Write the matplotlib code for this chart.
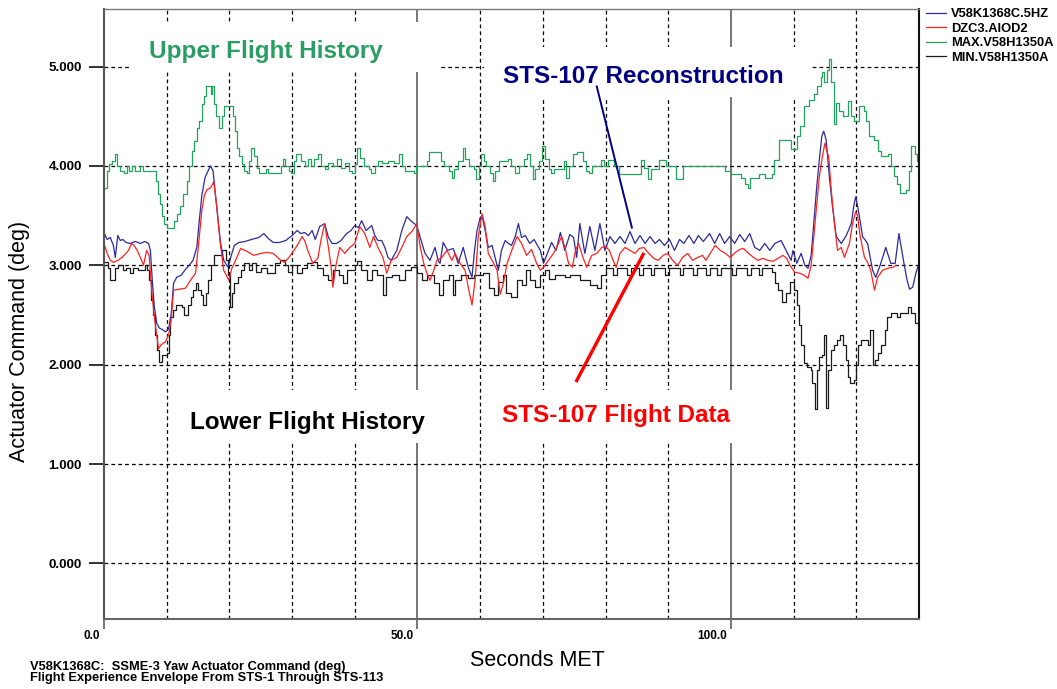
import matplotlib
matplotlib.use("Agg")
import matplotlib.pyplot as plt
from matplotlib.patches import Rectangle
from matplotlib.transforms import ScaledTranslation

plt.rcParams['font.family'] = ['Liberation Sans', 'DejaVu Sans']

# --- data (seconds MET, deg) ---
# STS-107 reconstruction (V58K1368C.5HZ)
recon_t = [0.0, 0.5, 1.0, 1.5, 1.8, 2.2, 2.6, 3.0, 3.5, 4.2, 5.0, 5.8, 6.5, 7.1, 7.4, 7.7, 8.0, 8.4, 8.8, 9.4,
           9.8, 10.3, 10.7, 11.1, 11.6, 12.3, 13.0, 13.6, 14.2, 14.8, 15.2, 15.6, 16.1, 16.6, 17.0, 17.4, 17.8, 18.2,
           18.6, 19.1, 19.8, 20.3, 20.8, 21.5, 22.5, 23.5, 24.7, 25.5, 26.2, 27.0, 28.0, 29.0, 30.0, 30.8, 31.4,
           32.0, 32.6, 33.2, 33.7, 34.4, 35.2, 35.8, 36.4, 37.1, 37.8, 38.7, 39.4, 40.0, 40.6, 41.1, 41.8, 42.7,
           43.2, 43.7, 44.3, 44.8, 45.3, 45.8, 46.7, 47.5, 48.3, 48.9, 49.9, 50.4, 51.2, 52.0, 52.8, 53.3, 53.6,
           54.1, 54.8, 55.7, 56.5, 57.3, 58.1, 58.7, 59.1, 59.5, 60.0, 60.3, 60.8, 61.3, 61.9, 62.5, 62.9, 63.4,
           64.0, 64.5, 65.0, 65.6, 66.1, 66.6, 67.2, 67.9, 68.6, 69.6, 70.1, 70.6, 71.4, 72.1, 72.8, 73.5, 74.3,
           74.9, 75.4, 75.9, 76.7, 77.5, 78.3, 79.1, 79.9, 80.7, 81.5, 82.3, 83.1, 83.9, 84.7, 85.5, 86.3, 87.1,
           87.9, 88.6, 89.4, 90.2, 91.0, 91.8, 92.5, 93.3, 94.1, 94.8, 95.6, 96.6, 97.4, 98.2, 99.0, 99.8, 100.6,
           101.4, 102.2, 103.0, 103.8, 104.6, 105.4, 106.2, 107.0, 108.0, 108.8, 109.6, 109.9, 110.5, 111.2,
           111.8, 112.3, 112.8, 113.3, 113.7, 114.1, 114.5, 114.8, 115.2, 115.7, 116.2, 116.8, 117.6, 118.4,
           119.2, 119.6, 119.9, 120.2, 120.5, 121.0, 121.8, 122.6, 123.1, 123.8, 124.7, 125.5, 126.2, 126.8,
           127.6, 128.1, 128.5, 129.0, 129.5, 130.0]
recon_v = [3.33, 3.26, 3.28, 3.20, 3.08, 3.30, 3.25, 3.26, 3.23, 3.22, 3.24, 3.22, 3.24, 3.22, 3.15, 2.85, 2.60,
           2.42, 2.37, 2.35, 2.33, 2.36, 2.50, 2.82, 2.88, 2.90, 2.96, 3.00, 3.05, 3.18, 3.45, 3.70, 3.88, 3.95,
           4.00, 3.95, 3.70, 3.45, 3.22, 3.05, 2.98, 3.10, 3.20, 3.23, 3.24, 3.26, 3.28, 3.32, 3.27, 3.23, 3.23,
           3.25, 3.30, 3.35, 3.32, 3.33, 3.30, 3.35, 3.26, 3.39, 3.42, 3.28, 3.22, 3.22, 3.25, 3.32, 3.35, 3.40,
           3.38, 3.45, 3.35, 3.40, 3.30, 3.25, 3.25, 3.18, 3.08, 3.05, 3.15, 3.35, 3.49, 3.45, 3.40, 3.29, 3.12,
           3.05, 3.18, 3.05, 3.02, 3.23, 3.15, 3.17, 3.02, 3.18, 2.98, 2.88, 3.15, 3.35, 3.48, 3.50, 3.35, 3.18,
           3.20, 3.05, 2.95, 3.15, 3.25, 3.22, 3.20, 3.29, 3.42, 3.28, 3.30, 3.22, 3.26, 3.15, 3.02, 3.10, 3.23,
           3.15, 3.33, 3.15, 3.31, 3.28, 3.08, 3.42, 3.12, 3.39, 3.15, 3.42, 3.15, 3.29, 3.22, 3.29, 3.22, 3.34,
           3.22, 3.30, 3.22, 3.29, 3.22, 3.26, 3.20, 3.26, 3.15, 3.26, 3.22, 3.30, 3.22, 3.30, 3.24, 3.32, 3.22,
           3.32, 3.22, 3.29, 3.22, 3.31, 3.24, 3.32, 3.18, 3.15, 3.22, 3.15, 3.22, 3.25, 3.15, 3.05, 3.15, 3.02,
           3.12, 3.00, 2.97, 3.10, 3.49, 3.80, 4.06, 4.30, 4.35, 4.26, 3.89, 3.59, 3.29, 3.22, 3.30, 3.42, 3.60,
           3.69, 3.60, 3.49, 3.29, 3.22, 2.95, 2.88, 3.00, 3.18, 3.02, 3.02, 3.32, 3.02, 2.85, 2.76, 2.78, 2.92,
           3.02]

# STS-107 flight data (DZC3.AIOD2)
flight_t = [0.0, 0.5, 1.0, 1.5, 2.2, 2.9, 3.5, 3.9, 4.4, 4.8, 5.3, 5.8, 6.3, 6.8, 7.2, 7.6, 8.0, 8.4, 8.7, 9.1,
            9.8, 10.3, 10.7, 11.1, 12.0, 13.0, 13.8, 14.6, 15.1, 15.6, 16.0, 16.4, 17.0, 17.5, 18.0, 18.5, 19.1,
            19.9, 20.4, 21.2, 21.8, 22.8, 23.9, 25.0, 26.0, 27.0, 28.2, 28.8, 29.5, 30.3, 31.0, 31.6, 32.0, 32.5,
            33.3, 34.1, 34.6, 35.2, 35.7, 36.2, 36.5, 37.0, 37.6, 38.4, 39.2, 40.0, 40.8, 41.6, 42.4, 43.0, 43.7,
            44.5, 45.1, 45.8, 46.7, 47.5, 48.3, 49.1, 49.9, 50.4, 51.0, 51.5, 52.0, 52.6, 53.1, 53.9, 54.7, 55.5,
            56.0, 56.8, 57.6, 58.1, 58.7, 59.2, 59.7, 60.3, 60.8, 61.3, 61.9, 62.7, 63.2, 63.7, 64.3, 65.1, 65.9,
            66.6, 67.4, 68.2, 69.0, 69.6, 70.1, 70.9, 71.7, 72.5, 73.0, 73.6, 74.1, 74.7, 75.2, 75.7, 76.4, 77.0,
            77.8, 78.6, 79.4, 80.0, 80.6, 81.2, 81.7, 82.3, 83.1, 83.9, 84.7, 85.4, 86.1, 86.9, 87.7, 88.4, 89.2,
            89.9, 90.7, 91.5, 92.3, 93.1, 93.9, 94.7, 95.5, 96.0, 96.7, 97.5, 98.3, 99.1, 99.9, 100.7, 101.4,
            102.0, 102.8, 103.6, 104.3, 105.1, 105.9, 106.7, 107.5, 108.3, 108.9, 109.4, 110.2, 111.0, 111.7,
            112.3, 112.8, 113.3, 113.7, 114.1, 114.6, 115.0, 115.3, 115.6, 116.0, 116.5, 117.0, 117.6, 118.1,
            118.9, 119.4, 119.9, 120.2, 120.6, 121.3, 121.8, 122.3, 122.9, 123.4, 124.2, 125.0, 125.8, 126.3]
flight_v = [3.22, 3.12, 3.05, 3.03, 3.05, 3.08, 3.12, 3.15, 3.22, 3.20, 3.15, 3.08, 3.00, 3.15, 3.10, 2.75, 2.50,
            2.30, 2.16, 2.20, 2.23, 2.30, 2.45, 2.75, 2.76, 2.77, 2.85, 2.92, 3.22, 3.55, 3.70, 3.76, 3.78, 3.84,
            3.59, 3.25, 2.95, 2.85, 2.97, 3.08, 3.17, 3.14, 3.10, 3.12, 3.13, 3.12, 3.05, 3.03, 3.08, 3.15, 3.22,
            3.29, 3.25, 3.15, 3.02, 3.07, 3.25, 3.42, 3.22, 3.00, 2.78, 3.00, 3.18, 3.12, 3.18, 3.22, 3.39, 3.32,
            3.18, 3.29, 3.18, 3.08, 2.92, 3.05, 3.08, 3.18, 3.29, 3.34, 3.42, 3.20, 3.02, 2.92, 2.85, 2.95, 3.05,
            3.08, 3.15, 3.05, 3.12, 3.02, 2.95, 2.78, 2.60, 2.85, 3.29, 3.52, 3.39, 3.12, 3.05, 2.95, 2.71, 2.82,
            3.02, 3.16, 3.29, 3.22, 3.10, 3.16, 3.02, 2.95, 2.98, 3.05, 3.12, 3.22, 3.29, 3.16, 3.02, 2.98, 3.15,
            3.22, 3.08, 2.98, 3.10, 3.12, 3.18, 3.19, 3.15, 3.05, 2.98, 3.12, 3.18, 3.15, 3.12, 3.17, 3.18, 3.12,
            3.07, 3.05, 3.10, 3.12, 3.05, 3.00, 3.08, 3.12, 3.05, 3.08, 3.10, 3.05, 3.12, 3.20, 3.15, 3.12, 3.08,
            3.13, 3.16, 3.17, 3.12, 3.08, 3.05, 3.07, 3.05, 3.04, 3.07, 3.10, 3.07, 3.00, 2.93, 2.92, 2.90, 2.87,
            3.00, 3.35, 3.62, 3.89, 4.10, 4.23, 4.15, 4.09, 3.76, 3.43, 3.15, 3.18, 3.08, 3.22, 3.42, 3.54, 3.50,
            3.30, 3.08, 3.03, 2.95, 2.75, 2.88, 2.95, 2.97, 2.98, 3.00]

# Upper flight history envelope (MAX.V58H1350A)
upper_t = [0.0, 0.4, 0.8, 1.3, 1.7, 2.0, 2.5, 3.2, 3.6, 4.0, 4.5, 5.0, 5.7, 6.2, 8.0, 8.3, 8.6, 8.9, 9.2, 9.6,
           10.0, 11.2, 11.6, 12.2, 12.6, 13.3, 13.6, 14.0, 14.4, 14.8, 15.2, 15.6, 16.0, 16.3, 17.0, 17.3, 17.6,
           17.9, 18.3, 18.8, 19.1, 20.6, 20.9, 21.2, 21.6, 22.0, 22.4, 22.8, 23.2, 23.5, 24.0, 24.4, 24.8, 25.8,
           26.2, 28.2, 28.5, 28.8, 29.5, 29.9, 30.3, 30.6, 31.5, 32.0, 32.6, 33.0, 33.5, 34.2, 34.6, 35.2, 35.8,
           36.5, 37.2, 37.8, 38.5, 39.0, 39.5, 40.0, 40.3, 40.8, 41.5, 42.3, 42.6, 43.2, 43.7, 44.4, 45.3, 46.2,
           47.0, 47.5, 48.0, 49.4, 49.8, 51.5, 51.8, 53.8, 54.3, 55.0, 55.5, 55.9, 56.5, 57.2, 57.6, 58.3, 59.0,
           59.4, 59.8, 60.2, 60.6, 61.0, 61.6, 62.0, 62.4, 63.0, 64.5, 65.0, 65.6, 66.2, 67.0, 67.5, 68.0, 68.4,
           68.8, 69.4, 69.8, 70.4, 71.0, 71.3, 71.8, 73.3, 73.7, 74.2, 74.8, 75.4, 76.4, 76.9, 77.4, 77.8, 79.2,
           79.8, 80.4, 81.4, 82.2, 85.6, 86.2, 86.8, 87.2, 88.6, 89.6, 91.2, 92.4, 99.0, 100.0, 101.6, 102.3,
           102.8, 103.0, 104.5, 105.5, 106.5, 106.8, 107.6, 109.6, 110.6, 111.0, 111.6, 112.4, 113.2, 113.8,
           114.3, 114.6, 114.9, 115.4, 115.7, 116.0, 116.4, 116.7, 117.2, 117.8, 118.6, 119.2, 119.7, 120.5,
           121.2, 121.6, 122.1, 122.8, 123.4, 124.0, 125.0, 125.5, 126.0, 126.5, 127.0, 128.0, 128.4, 128.8,
           129.3, 129.7, 130.0]
upper_v = [3.78, 3.95, 4.02, 4.05, 4.12, 4.00, 3.95, 3.93, 4.00, 3.95, 4.00, 3.95, 4.00, 3.95, 3.95, 3.85, 3.72,
           3.62, 3.50, 3.42, 3.38, 3.45, 3.52, 3.60, 3.72, 3.85, 4.00, 4.15, 4.25, 4.38, 4.45, 4.62, 4.70, 4.80,
           4.72, 4.80, 4.62, 4.50, 4.38, 4.50, 4.60, 4.50, 4.35, 4.18, 4.10, 4.02, 3.95, 3.93, 4.05, 4.18, 4.10,
           3.98, 3.93, 3.97, 3.93, 4.00, 4.07, 4.00, 3.95, 3.93, 4.05, 4.12, 4.05, 4.00, 4.07, 4.00, 4.07, 4.12,
           4.00, 3.97, 4.03, 4.00, 4.07, 3.98, 4.03, 3.95, 3.93, 4.02, 4.18, 4.08, 4.00, 3.97, 3.93, 4.00, 4.05,
           4.03, 4.05, 4.03, 4.12, 4.00, 3.95, 3.93, 4.00, 4.05, 4.14, 4.05, 4.00, 3.95, 3.88, 3.97, 4.05, 4.18,
           4.07, 4.00, 3.97, 3.87, 4.00, 4.12, 4.05, 4.00, 3.93, 3.85, 3.95, 4.05, 4.07, 4.00, 3.93, 4.00, 4.07,
           4.12, 4.00, 3.87, 3.97, 4.05, 4.20, 4.07, 3.97, 3.93, 3.97, 4.05, 3.88, 4.00, 4.12, 4.14, 4.05, 3.95,
           3.93, 4.00, 4.06, 4.00, 4.06, 4.00, 3.92, 4.06, 3.98, 3.87, 3.97, 4.06, 4.00, 3.87, 4.00, 3.95, 3.92,
           3.88, 3.82, 3.78, 3.88, 3.92, 3.88, 3.92, 4.06, 4.26, 4.17, 4.30, 4.40, 4.60, 4.66, 4.72, 4.80, 4.90,
           4.95, 4.85, 4.97, 5.08, 4.85, 4.42, 4.63, 4.55, 4.50, 4.65, 4.50, 4.45, 4.60, 4.55, 4.45, 4.30, 4.26,
           4.15, 4.10, 4.12, 4.00, 3.90, 3.82, 3.73, 3.76, 3.95, 4.20, 4.12, 4.05, 4.05]

# Lower flight history envelope (MIN.V58H1350A)
lower_t = [0.0, 0.6, 1.0, 1.8, 2.3, 3.0, 3.5, 4.2, 4.6, 5.5, 6.5, 6.8, 7.2, 7.5, 7.8, 8.1, 8.4, 8.7, 9.3, 10.0,
           10.3, 10.6, 11.0, 11.5, 12.4, 12.8, 13.4, 13.8, 14.2, 14.6, 15.0, 15.4, 15.8, 16.2, 16.6, 17.0, 17.5,
           18.8, 19.4, 19.8, 20.1, 20.4, 20.8, 21.3, 21.8, 22.4, 23.2, 23.6, 24.2, 25.0, 26.0, 27.2, 28.0, 28.8,
           29.4, 30.0, 30.8, 31.6, 32.4, 33.2, 34.0, 35.0, 35.8, 36.6, 37.5, 38.2, 38.8, 40.0, 40.4, 41.0, 42.0,
           42.8, 43.6, 44.5, 45.0, 46.0, 47.0, 48.0, 49.0, 50.0, 50.7, 51.6, 52.6, 53.4, 54.0, 55.0, 55.6, 56.0,
           57.0, 58.0, 59.0, 60.4, 61.4, 62.2, 62.8, 63.6, 64.2, 65.0, 65.8, 66.6, 67.3, 68.0, 68.8, 69.5, 70.4,
           71.0, 72.0, 73.5, 74.4, 76.0, 77.5, 78.6, 79.2, 80.0, 81.2, 81.8, 83.5, 84.1, 85.3, 85.9, 87.2, 87.8,
           89.5, 90.1, 91.8, 92.4, 94.0, 94.6, 96.0, 96.6, 97.8, 98.4, 100.2, 100.8, 102.6, 103.2, 104.4, 105.0,
           106.5, 107.0, 107.5, 108.2, 108.8, 109.4, 110.0, 110.5, 110.8, 111.2, 111.6, 112.2, 112.7, 113.0,
           113.4, 113.8, 114.1, 114.6, 114.9, 115.1, 115.5, 115.9, 116.4, 116.9, 117.4, 117.9, 118.3, 118.7,
           119.0, 119.6, 119.9, 120.2, 120.7, 121.3, 121.8, 122.2, 122.6, 123.0, 123.4, 124.0, 124.5, 124.9,
           125.6, 126.5, 127.0, 128.2, 128.8, 129.3, 130.0]
lower_v = [3.03, 2.97, 2.85, 2.97, 3.00, 2.95, 2.97, 2.92, 2.97, 2.95, 3.00, 2.95, 2.85, 2.65, 2.50, 2.30, 2.15,
           2.03, 2.10, 2.12, 2.30, 2.48, 2.55, 2.60, 2.58, 2.50, 2.60, 2.68, 2.75, 2.82, 2.75, 2.70, 2.60, 2.72,
           2.85, 3.00, 3.10, 3.15, 3.05, 2.90, 2.58, 2.72, 2.82, 2.88, 2.95, 3.02, 2.95, 3.02, 2.93, 2.97, 2.92,
           3.02, 3.05, 3.00, 2.93, 3.00, 2.92, 2.97, 3.02, 3.03, 2.97, 2.90, 2.85, 2.95, 2.90, 2.82, 2.95, 3.00,
           3.04, 2.95, 2.85, 2.95, 2.90, 2.70, 2.88, 2.90, 2.85, 2.95, 2.98, 2.92, 2.85, 2.90, 2.82, 2.70, 2.85,
           2.90, 2.70, 2.85, 2.90, 2.87, 2.90, 2.92, 2.77, 2.70, 2.83, 2.90, 2.72, 2.68, 2.85, 2.80, 2.95, 2.85,
           2.78, 2.90, 2.95, 2.86, 2.90, 2.88, 2.90, 2.85, 2.80, 2.77, 2.90, 2.97, 2.90, 2.97, 2.90, 2.97, 2.90,
           2.97, 2.90, 2.97, 2.90, 2.97, 2.90, 2.97, 2.90, 2.97, 2.90, 2.97, 2.90, 2.97, 2.90, 2.97, 2.90, 2.97,
           2.90, 2.97, 2.93, 2.82, 2.75, 2.63, 2.72, 2.83, 2.75, 2.60, 2.40, 2.20, 2.02, 1.98, 1.95, 1.82, 1.55,
           1.95, 2.08, 2.10, 2.30, 1.56, 1.95, 2.15, 2.20, 2.25, 2.30, 2.20, 2.05, 1.88, 1.82, 1.85, 2.00, 2.20,
           2.25, 2.25, 2.20, 2.35, 2.00, 2.05, 2.12, 2.20, 2.35, 2.48, 2.52, 2.48, 2.52, 2.58, 2.52, 2.42, 2.42]

series_names = ['V58K1368C.5HZ', 'DZC3.AIOD2', 'MAX.V58H1350A', 'MIN.V58H1350A']
x_major = [0, 50, 100]
x_major_labels = ['0.0', '50.0', '100.0']
y_ticks = [0, 1, 2, 3, 4, 5]

W, H = 1057, 689
fig = plt.figure(figsize=(W / 100, H / 100), dpi=100)
ax = fig.add_axes([104 / W, 1 - 619 / H, (919 - 104) / W, (619 - 9) / H])

# white panels behind the callout captions
for x0, x1, y0, y1 in [(4.1, 53.6, 4.95, 5.45), (60.6, 112.9, 4.69, 5.20),
                       (13.5, 55.0, 1.21, 1.74), (60.6, 101.5, 1.21, 1.74)]:
    ax.add_patch(Rectangle((x0, y0), x1 - x0, y1 - y0, facecolor='white',
                           edgecolor='none', zorder=1.5))

l_upper, = ax.plot(upper_t, upper_v, drawstyle='steps-post', color='#22a35f', lw=0.9, zorder=2)
l_lower, = ax.plot(lower_t, lower_v, drawstyle='steps-post', color='#1a1a1a', lw=0.9, zorder=2)
l_recon, = ax.plot(recon_t, recon_v, color='#2a2a9c', lw=0.9, zorder=2.2)
l_flight, = ax.plot(flight_t, flight_v, color='#ff2222', lw=0.9, zorder=2.3)

ax.set_xlim(0, 130)
ax.set_ylim(-0.56, 5.58)

ax.set_xticks(x_major)
ax.set_xticklabels(x_major_labels, fontsize=8.5, fontweight='bold')
ax.set_xticks(range(10, 130, 10), minor=True)
ax.set_yticks(y_ticks)
ax.set_yticklabels(['%.3f' % v for v in y_ticks], fontsize=9.6, fontweight='bold')

ax.set_axisbelow(True)
ax.grid(True, which='major', axis='x', color='#6a6a6a', lw=1.3, ls='-')
ax.grid(True, which='minor', axis='x', color='black', lw=0.9, ls=(0, (3, 2.5)))
ax.grid(True, which='major', axis='y', color='black', lw=0.9, ls=(0, (3, 2.5)))

ax.tick_params(axis='y', which='major', direction='out', length=11, width=1.4, color='#333333', pad=5)
ax.tick_params(axis='x', which='major', direction='out', length=7, width=1.4, color='#777777', pad=1)
ax.tick_params(axis='x', which='minor', length=0)

offset = ScaledTranslation(-3 / 72, 0, fig.dpi_scale_trans)
for lab in ax.get_xticklabels():
    lab.set_ha('right')
    lab.set_transform(lab.get_transform() + offset)

for side, col, lw in [('left', '#555555', 1.5), ('bottom', '#666666', 1.5),
                      ('top', '#777777', 1.0), ('right', '#111111', 1.5)]:
    ax.spines[side].set_color(col)
    ax.spines[side].set_linewidth(lw)

# captions and pointer lines
ax.text(25.75, 5.15, 'Upper Flight History', color='#2a9d62', fontsize=17.5,
        fontweight='bold', ha='center', va='center', zorder=4)
ax.text(86.0, 4.90, 'STS-107 Reconstruction', color='#000080', fontsize=17.5,
        fontweight='bold', ha='center', va='center', zorder=4)
ax.text(32.4, 1.42, 'Lower Flight History', color='black', fontsize=17.5,
        fontweight='bold', ha='center', va='center', zorder=4)
ax.text(81.6, 1.49, 'STS-107 Flight Data', color='#ff0000', fontsize=17.5,
        fontweight='bold', ha='center', va='center', zorder=4)
ax.plot([78.6, 84.2], [4.80, 3.38], color='#000080', lw=1.4, zorder=3)
ax.plot([75.4, 86.0], [1.84, 3.11], color='#ff0000', lw=2.4, zorder=3)

fig.text(20 / W, 1 - 341 / H, 'Actuator Command (deg)', rotation=90,
         ha='center', va='center', fontsize=15.5)
fig.text(537 / W, 1 - 660 / H, 'Seconds MET', ha='center', va='center', fontsize=15.5)
fig.text(30 / W, 1 - 661 / H,
         'V58K1368C:  SSME-3 Yaw Actuator Command (deg)\n'
         'Flight Experience Envelope From STS-1 Through STS-113',
         ha='left', va='top', fontsize=9.3, fontweight='bold', linespacing=0.85)

ax.legend([l_recon, l_flight, l_upper, l_lower], series_names,
          loc='upper left', bbox_to_anchor=(926 / W, 1 - 8 / H),
          bbox_transform=fig.transFigure, frameon=False, borderaxespad=0,
          borderpad=0, handlelength=1.55, handletextpad=0.4, labelspacing=0.2,
          prop={'size': 9.3, 'weight': 'bold'})

fig.savefig('out.png', dpi=100)
